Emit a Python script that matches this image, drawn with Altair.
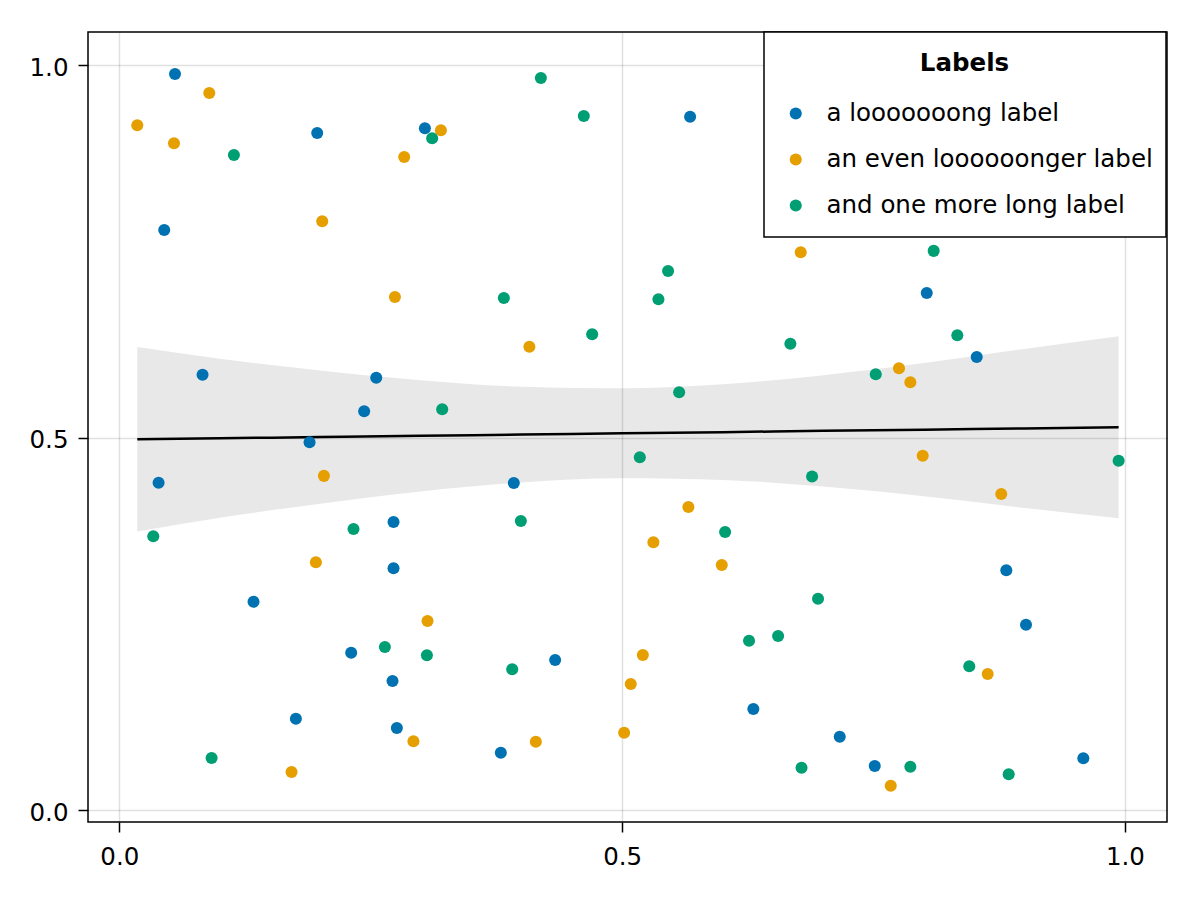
import altair as alt
import pandas as pd

labels = ["a looooooong label", "an even loooooonger label", "and one more long label"]
colors = ["#0072B2", "#E69F00", "#009E73"]

blue_x = [0.0554, 0.1968, 0.3039, 0.0447, 0.0828, 0.2555, 0.2435, 0.5676, 0.8029, 0.8526,
          0.1892, 0.0391, 0.2727, 0.2727, 0.1335, 0.2306, 0.2717, 0.1756, 0.2760, 0.3923,
          0.4334, 0.3794, 0.6305, 0.8820, 0.9016, 0.7164, 0.7512, 0.9586]
blue_y = [0.9879, 0.9087, 0.9150, 0.7785, 0.5843, 0.5803, 0.5352, 0.9306, 0.6940, 0.6081,
          0.4936, 0.4393, 0.3866, 0.3244, 0.2796, 0.2111, 0.1732, 0.1226, 0.1101, 0.4389,
          0.2013, 0.0769, 0.1356, 0.3217, 0.2487, 0.0984, 0.0591, 0.0694]

orange_x = [0.0895, 0.0179, 0.0544, 0.3198, 0.2833, 0.2018, 0.2741, 0.4078, 0.6776, 0.7753,
            0.7866, 0.7989, 0.8770, 0.2035, 0.1955, 0.3065, 0.2925, 0.1713, 0.5659, 0.5311,
            0.5991, 0.5206, 0.5086, 0.5020, 0.4142, 0.8635, 0.7671]
orange_y = [0.9624, 0.9191, 0.8949, 0.9124, 0.8765, 0.7902, 0.6886, 0.6219, 0.7486, 0.5929,
            0.5741, 0.4756, 0.4242, 0.4485, 0.3325, 0.2537, 0.0922, 0.0510, 0.4067, 0.3593,
            0.3289, 0.2081, 0.1691, 0.1038, 0.0917, 0.1826, 0.0326]

green_x = [0.4192, 0.4619, 0.1140, 0.3111, 0.5457, 0.3824, 0.5361, 0.4702, 0.6673, 0.8098,
           0.8333, 0.7522, 0.5567, 0.3211, 0.5176, 0.6889, 0.9937, 0.0338, 0.2329, 0.3993,
           0.6024, 0.6948, 0.6262, 0.6551, 0.2641, 0.3059, 0.3907, 0.8452, 0.0918, 0.6784,
           0.7866, 0.8844]
green_y = [0.9826, 0.9315, 0.8792, 0.9016, 0.7235, 0.6872, 0.6855, 0.6385, 0.6259, 0.7505,
           0.6372, 0.5848, 0.5607, 0.5378, 0.4734, 0.4477, 0.4689, 0.3674, 0.3772, 0.3879,
           0.3732, 0.2836, 0.2272, 0.2336, 0.2188, 0.2077, 0.1889, 0.1929, 0.0698, 0.0568,
           0.0581, 0.0479]

band_x = [0.0179, 0.1, 0.2, 0.3, 0.4, 0.5, 0.6, 0.7, 0.8, 0.9, 0.9937]
fit_y = [0.4976, 0.4990, 0.5006, 0.5023, 0.5039, 0.5056, 0.5072, 0.5089, 0.5105, 0.5122, 0.5137]
band_lo = [0.3737, 0.3923, 0.4112, 0.4276, 0.4396, 0.4452, 0.4429, 0.4342, 0.4211, 0.4055, 0.3916]
band_hi = [0.6215, 0.6057, 0.5900, 0.5770, 0.5682, 0.5660, 0.5715, 0.5836, 0.5999, 0.6189, 0.6358]

tick_values = [0.0, 0.5, 1.0]

pts = pd.concat([
    pd.DataFrame({"x": blue_x, "y": blue_y, "series": labels[0]}),
    pd.DataFrame({"x": orange_x, "y": orange_y, "series": labels[1]}),
    pd.DataFrame({"x": green_x, "y": green_y, "series": labels[2]}),
], ignore_index=True)
band = pd.DataFrame({"x": band_x, "fit": fit_y, "lo": band_lo, "hi": band_hi})

FONT = "DejaVu Sans"
FS = 24.5

xscale = alt.Scale(domain=[-0.0311, 1.0418], nice=False, zero=False)
yscale = alt.Scale(domain=[-0.0161, 1.0443], nice=False, zero=False)

xaxis = alt.Axis(values=tick_values, format=".1f", title=None, grid=True, domain=False,
                 tickSize=10, tickWidth=1.5, tickColor="black",
                 labelFont=FONT, labelFontSize=FS, labelColor="black", labelPadding=13,
                 gridColor="black", gridOpacity=0.12, gridWidth=1.5, labelFlush=False)
yaxis = alt.Axis(values=tick_values, format=".1f", title=None, grid=True, domain=False,
                 tickSize=10, tickWidth=1.5, tickColor="black",
                 labelFont=FONT, labelFontSize=FS, labelColor="black", labelPadding=10,
                 labelOffset=3, gridColor="black", gridOpacity=0.12, gridWidth=1.5,
                 labelFlush=False)

band_layer = alt.Chart(band).mark_area(color="black", opacity=0.09, interpolate="monotone").encode(
    x=alt.X("x:Q", scale=xscale, axis=xaxis),
    y=alt.Y("lo:Q", scale=yscale, axis=yaxis),
    y2="hi:Q",
)

line_layer = alt.Chart(band).mark_line(color="black", strokeWidth=2.5, interpolate="monotone").encode(
    x=alt.X("x:Q", scale=xscale),
    y=alt.Y("fit:Q", scale=yscale),
)

legend = alt.Legend(
    title="Labels", orient="none", legendX=676, legendY=0,
    fillColor="white", strokeColor="black", padding=12.5, cornerRadius=0,
    titleFont=FONT, titleFontSize=FS, titleFontWeight="bold", titleColor="black",
    titleAnchor="middle", titleAlign="center", titleBaseline="line-top", titleLineHeight=38,
    titlePadding=26,
    labelFont=FONT, labelFontSize=FS, labelColor="black", labelLimit=0, labelOffset=18.5,
    symbolType="circle", symbolSize=145, symbolStrokeWidth=0, symbolOffset=7,
    symbolOpacity=1, clipHeight=37, rowPadding=9,
)

point_layer = alt.Chart(pts).mark_circle(size=145, opacity=1).encode(
    x=alt.X("x:Q", scale=xscale),
    y=alt.Y("y:Q", scale=yscale),
    color=alt.Color("series:N", scale=alt.Scale(domain=labels, range=colors), legend=legend),
)

chart = alt.layer(band_layer, line_layer, point_layer).properties(
    width=1079, height=790,
    background="white",
    autosize=alt.AutoSizeParams(type="none"),
    padding={"left": 80, "top": 24, "right": 25, "bottom": 70},
).configure_view(stroke="black", strokeWidth=1.5).configure_legend(
    strokeWidth=1.5
)

chart.save("out.html", embed_options={"renderer": "svg", "actions": False})
